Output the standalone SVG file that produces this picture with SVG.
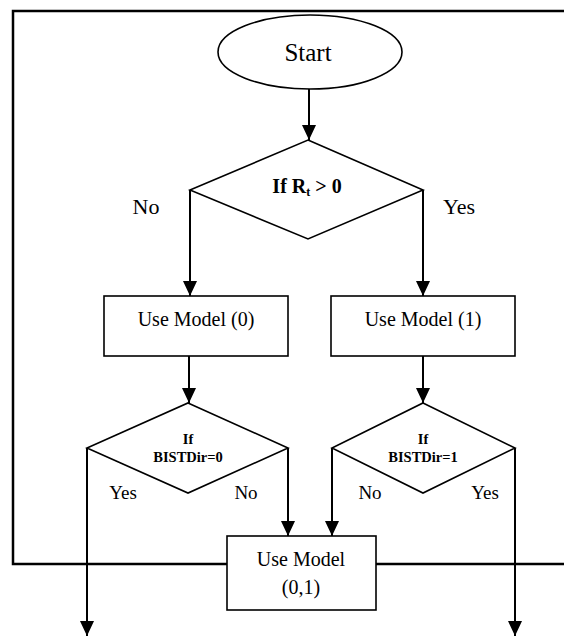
<svg xmlns="http://www.w3.org/2000/svg" width="564" height="636" viewBox="0 0 564 636">
<style>
.shape{fill:#fff;stroke:#000;stroke-width:1.6}
.conn{fill:none;stroke:#000;stroke-width:2}
.frame{fill:none;stroke:#000;stroke-width:2.5}
.t{font-family:"Liberation Serif","Times New Roman",serif;fill:#000;text-anchor:middle}
.lbl{font-size:22px}
.box{font-size:20px}
.sm{font-size:19px}
.b{font-weight:bold}
.d{font-size:14.5px;font-weight:bold}
</style>
<defs>
<marker id="ah" markerUnits="userSpaceOnUse" markerWidth="16" markerHeight="16" viewBox="0 0 16 16" refX="15" refY="8" orient="auto">
<path d="M0,1 L15,8 L0,15 Z" fill="#000"/>
</marker>
</defs>
<g id="frame">
<polyline class="frame" points="564,11 13,11 13,564 227,564"/>
<line class="frame" x1="376" y1="564" x2="564" y2="564"/>
</g>
<g id="connectors">
<line class="conn" x1="309" y1="89" x2="309" y2="140" marker-end="url(#ah)"/>
<polyline class="conn" points="190,190 190,296" marker-end="url(#ah)"/>
<polyline class="conn" points="423,190 423,296" marker-end="url(#ah)"/>
<line class="conn" x1="189" y1="356" x2="189" y2="403" marker-end="url(#ah)"/>
<line class="conn" x1="423" y1="356" x2="423" y2="403" marker-end="url(#ah)"/>
<polyline class="conn" points="288,448 288,536" marker-end="url(#ah)"/>
<polyline class="conn" points="332,448 332,536" marker-end="url(#ah)"/>
<polyline class="conn" points="87,448 87,636" marker-end="url(#ah)"/>
<polyline class="conn" points="515,448 515,636" marker-end="url(#ah)"/>
</g>
<g id="start">
<ellipse class="shape" cx="310" cy="52" rx="92" ry="37"/>
<text class="t" font-size="25" x="308" y="61">Start</text>
</g>
<g id="decision-rt">
<polygon class="shape" points="308,140 423,190 308,239 190,190"/>
<text class="t b" font-size="20" x="307" y="193">If R<tspan font-size="12" dy="3">t</tspan><tspan dy="-3"> &gt; 0</tspan></text>
</g>
<g id="label-no-top"><text class="t lbl" x="146" y="214">No</text></g>
<g id="label-yes-top"><text class="t lbl" x="459" y="214">Yes</text></g>
<g id="model0">
<rect class="shape" x="104" y="296" width="184" height="60"/>
<text class="t box" x="196" y="326">Use Model (0)</text>
</g>
<g id="model1">
<rect class="shape" x="331" y="296" width="184" height="60"/>
<text class="t box" x="423" y="326">Use Model (1)</text>
</g>
<g id="decision-dir0">
<polygon class="shape" points="188,403 288,448 188,493 87,448"/>
<text class="t d" x="188" y="444">If</text>
<text class="t d" x="188" y="462">BISTDir=0</text>
</g>
<g id="decision-dir1">
<polygon class="shape" points="423,403 515,448 423,493 332,448"/>
<text class="t d" x="423" y="444">If</text>
<text class="t d" x="423" y="462">BISTDir=1</text>
</g>
<g id="labels-dir">
<text class="t sm" x="123" y="499">Yes</text>
<text class="t sm" x="246" y="499">No</text>
<text class="t sm" x="370" y="499">No</text>
<text class="t sm" x="485" y="499">Yes</text>
</g>
<g id="model01">
<rect class="shape" x="227" y="536" width="149" height="74"/>
<text class="t box" x="301" y="566">Use Model</text>
<text class="t box" x="301" y="594">(0,1)</text>
</g>
</svg>
